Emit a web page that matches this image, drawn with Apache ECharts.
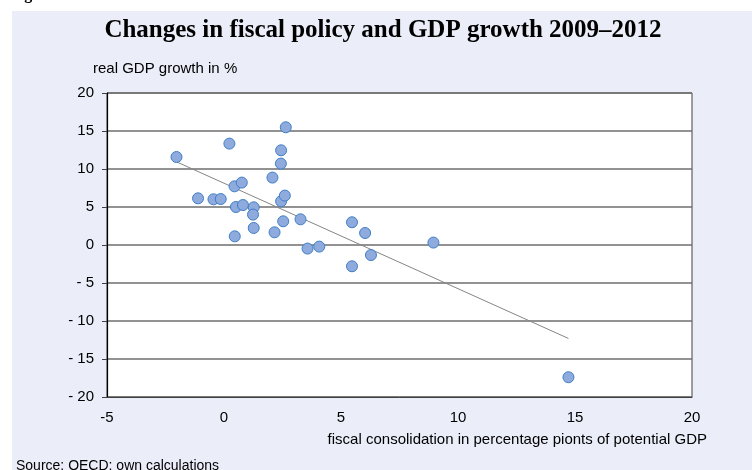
<!DOCTYPE html>
<html>
<head>
<meta charset="utf-8">
<script src="https://cdn.jsdelivr.net/npm/echarts@6/dist/echarts.min.js"></script>
<style>
html,body{margin:0;padding:0;background:#fff;}
#c{width:752px;height:470px;}
</style>
</head>
<body>
<div id="c"></div>
<script>
// fiscal consolidation (pp of potential GDP)
var fiscal = [-2.03, 0.23, 2.64, 2.44, 2.43, 2.07, 0.45, 0.76, -1.11, -0.45, -0.14, 0.51, 0.81, 1.27, 1.24, 2.44, 2.60, 1.27, 0.46, 2.16, 2.53, 3.27, 3.57, 4.07, 5.47, 6.03, 5.47, 6.28, 8.95, 14.72];
// real GDP growth in %
var growth = [11.58, 13.34, 15.49, 12.46, 10.71, 8.87, 7.72, 8.21, 6.14, 6.01, 6.05, 5.0, 5.26, 4.96, 4.0, 5.75, 6.5, 2.24, 1.14, 1.67, 3.12, 3.38, -0.47, -0.21, 2.99, 1.58, -2.8, -1.32, 0.32, -17.4];
var xTicks = [-5, 0, 5, 10, 15, 20];
var yTicks = [-20, -15, -10, -5, 0, 5, 10, 15, 20];

var points = fiscal.map(function (x, i) { return [x, growth[i]]; });

// linear least-squares trend line
var n = fiscal.length, mx = 0, my = 0;
for (var i = 0; i < n; i++) { mx += fiscal[i]; my += growth[i]; }
mx /= n; my /= n;
var sxx = 0, sxy = 0;
for (var i = 0; i < n; i++) { sxx += (fiscal[i] - mx) * (fiscal[i] - mx); sxy += (fiscal[i] - mx) * (growth[i] - my); }
var slope = sxy / sxx, icpt = my - slope * mx;
var xMin = Math.min.apply(null, fiscal), xMax = Math.max.apply(null, fiscal);
var trend = [[xMin, icpt + slope * xMin], [xMax, icpt + slope * xMax]];

var chart = echarts.init(document.getElementById('c'));
chart.setOption({
  backgroundColor: '#fff',
  animation: false,
  graphic: [
    { type: 'rect', left: 12, top: 11, shape: { width: 740, height: 470 }, style: { fill: '#EBEEF9' }, z: -10 },
    { type: 'text', left: 10, top: -13, style: { text: 'Figure 5', font: 'bold 16px "Liberation Serif", "DejaVu Serif", serif', fill: '#000' } },
    { type: 'text', x: 383, y: 31, style: { text: 'Changes in fiscal policy and GDP growth 2009\u20132012', font: 'bold 25px "Liberation Serif", "DejaVu Serif", serif', fill: '#000', align: 'center', verticalAlign: 'middle' } },
    { type: 'text', x: 93, y: 69, style: { text: 'real GDP growth in %', font: '15px "Liberation Sans", Arial, sans-serif', fill: '#000', align: 'left', verticalAlign: 'middle' } },
    { type: 'text', x: 707, y: 440, style: { text: 'fiscal consolidation in percentage pionts of potential GDP', font: '15px "Liberation Sans", Arial, sans-serif', fill: '#000', align: 'right', verticalAlign: 'middle' } },
    { type: 'text', x: 16, y: 466, style: { text: 'Source: OECD; own calculations', font: '14px "Liberation Sans", Arial, sans-serif', fill: '#000', align: 'left', verticalAlign: 'middle' } }
  ],
  grid: { left: 107, right: 60, top: 93, height: 304, show: true, backgroundColor: '#fff', borderColor: '#404040', borderWidth: 1, containLabel: false },
  xAxis: {
    type: 'value', min: xTicks[0], max: xTicks[xTicks.length - 1], interval: 5,
    axisLine: { show: true, onZero: false, lineStyle: { color: '#404040', width: 1 } },
    axisTick: { show: false },
    splitLine: { show: false },
    axisLabel: { margin: 13, color: '#000', fontSize: 15, fontFamily: '"Liberation Sans", Arial, sans-serif' }
  },
  yAxis: {
    type: 'value', min: yTicks[0], max: yTicks[yTicks.length - 1], interval: 5,
    axisLine: { show: true, onZero: false, lineStyle: { color: '#000', width: 1.2 } },
    axisTick: { show: true, length: 5, lineStyle: { color: '#404040' } },
    splitLine: { show: true, lineStyle: { color: '#6e6e6e', width: 1.5 } },
    axisLabel: { margin: 13, color: '#000', fontSize: 15, fontFamily: '"Liberation Sans", Arial, sans-serif',
      formatter: function (v) { return v < 0 ? '- ' + Math.abs(v) : String(v); } }
  },
  series: [
    { type: 'line', data: trend, symbol: 'none', lineStyle: { color: '#858585', width: 1 }, z: 2, silent: true },
    { type: 'scatter', data: points, symbol: 'circle', symbolSize: 11,
      itemStyle: { color: '#8FAADC', borderColor: '#3F7FC7', borderWidth: 1, opacity: 1 }, z: 3 }
  ]
});
</script>
</body>
</html>
